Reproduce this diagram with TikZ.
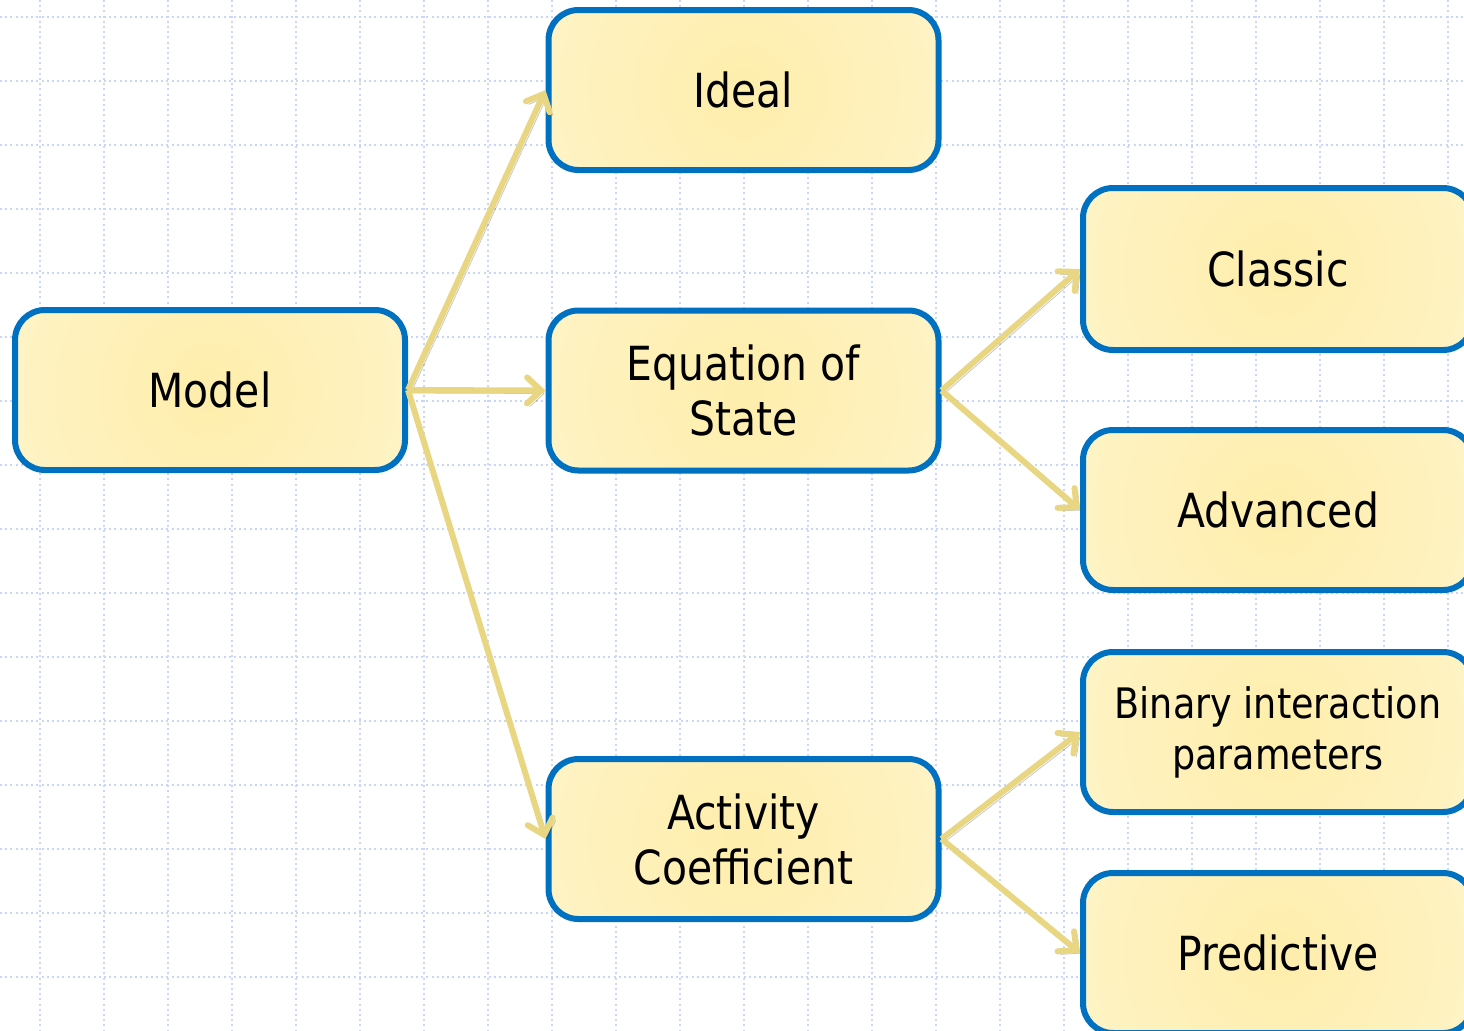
\documentclass[tikz,border=0pt]{standalone}
\usepackage{fontspec}
\newfontfamily\boxfont{DejaVu Sans}[FakeStretch=0.87]
\usetikzlibrary{arrows.meta}
\definecolor{boxblue}{RGB}{0,112,192}
\definecolor{boxcore}{RGB}{254,238,172}
\definecolor{boxrim}{RGB}{255,250,232}
\definecolor{linkgold}{RGB}{232,214,130}
\definecolor{gridblue}{RGB}{200,215,247}
\pgfdeclareradialshading{boxglow}{\pgfpoint{0bp}{0bp}}{%
  color(0bp)=(boxcore); color(20bp)=(boxcore!70!boxrim);
  color(50bp)=(boxrim); color(100bp)=(boxrim)}

\begin{document}
\begin{tikzpicture}[
  x=0.5pt,
  y=-0.5pt,
  line cap=round,
  line join=round,
  grid line/.style={draw=gridblue, line width=0.9pt, line cap=butt,
    dash pattern=on 1pt off 1.6pt},
  model box/.style={draw=boxblue, line width=3pt, rounded corners=15pt,
    fill=boxrim,
    path picture={\shade[shading=boxglow]
      (path picture bounding box.center) circle (200);},
    minimum width=195pt, minimum height=80pt, align=center,
    font=\boxfont\fontsize{23.5}{27.5}\selectfont},
  small text/.style={font=\boxfont\fontsize{21}{25.5}\selectfont},
  link/.style={draw=linkgold, line width=3pt, line cap=butt,
    -{Straight Barb[length=7pt, width=13pt, line cap=round]},
    preaction={draw=black, opacity=0.22,
      transform canvas={shift={(1.5pt,-1.5pt)}}}}
]
  \useasboundingbox (0,0) rectangle (1464,1030);
  \clip (0,0) rectangle (1464,1030);

  % Dotted background grid.
  \foreach \gx in {40,104,...,1464} {
    \draw[grid line] (\gx,0) -- (\gx,1030);
  }
  \foreach \gy in {17,81,...,1030} {
    \draw[grid line] (0,\gy) -- (1464,\gy);
  }

  % Model tree.
  \node[model box] (model) at (210,390) {Model};
  \node[model box] (ideal) at (743.5,90) {Ideal};
  \node[model box] (eos) at (743.5,390.5) {Equation of\\State};
  \node[model box] (activity) at (743.5,839) {Activity\\Coefficient};
  \node[model box, minimum height=81pt] (classic) at (1278,269) {Classic};
  \node[model box] (advanced) at (1278,510) {Advanced};
  \node[model box, small text] (binary) at (1278,732)
    {Binary interaction\\parameters};
  \node[model box] (predictive) at (1278,953) {Predictive};

  % Branches.
  \draw[link] (model.east) -- (ideal.west);
  \draw[link] (model.east) -- (eos.west);
  \draw[link] (model.east) -- (activity.west);
  \draw[link] (eos.east) -- (classic.west);
  \draw[link] (eos.east) -- (advanced.west);
  \draw[link] (activity.east) -- (binary.west);
  \draw[link] (activity.east) -- (predictive.west);
\end{tikzpicture}
\end{document}
